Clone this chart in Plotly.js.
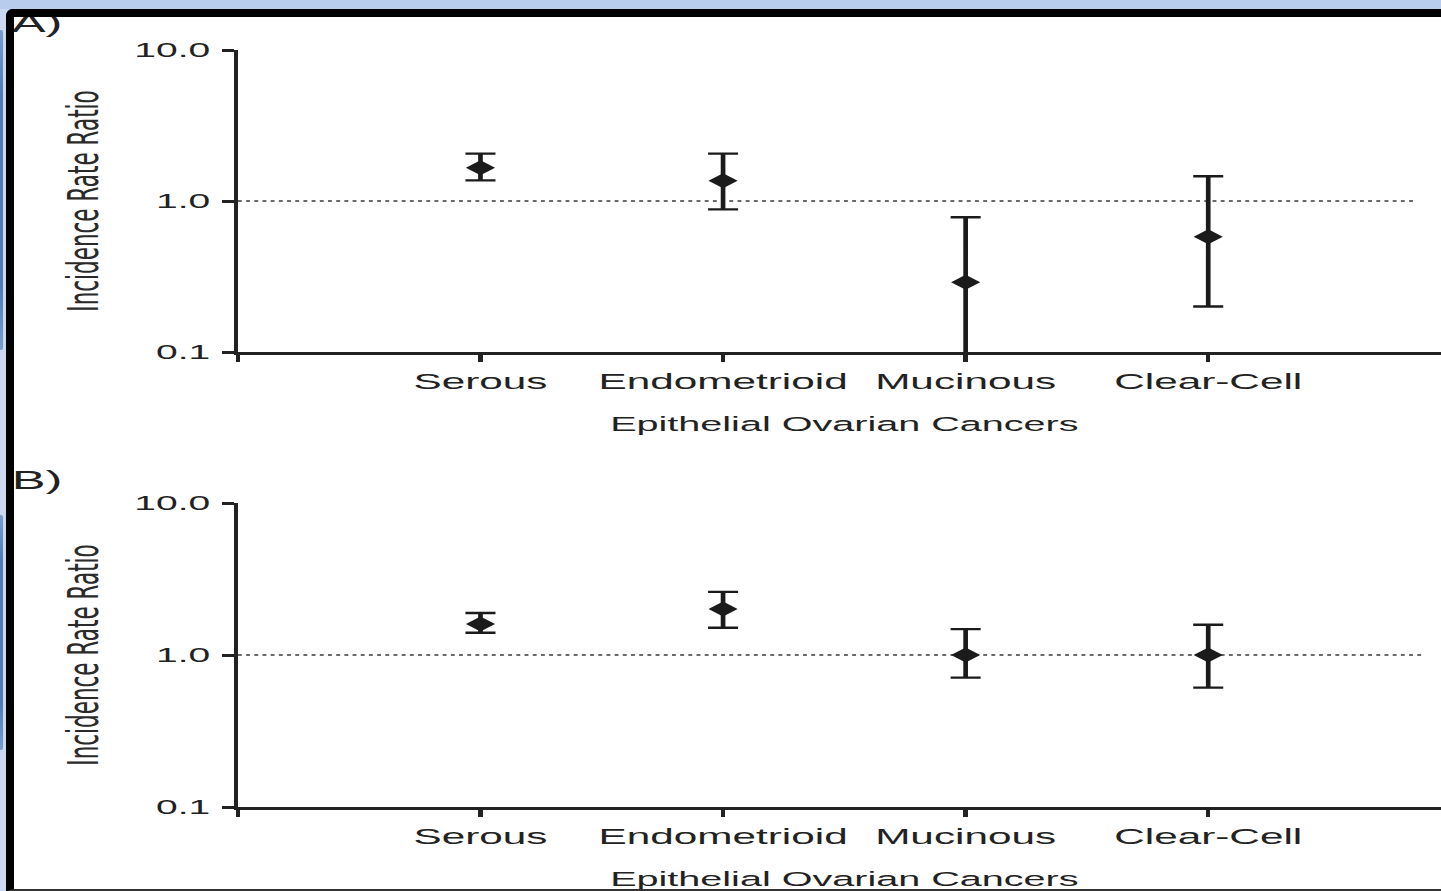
<!DOCTYPE html>
<html>
<head>
<meta charset="utf-8">
<script src="https://cdn.plot.ly/plotly-3.0.1.min.js"></script>
<style>
  html, body { margin: 0; padding: 0; width: 1441px; height: 891px; overflow: hidden; background: #b8cdee; }
  #leftband { position: absolute; left: 0; top: 9px; width: 7px; height: 882px; background: #cbd9f0; }
  .strip { position: absolute; left: 0; width: 3px; background: linear-gradient(to bottom, #7a9dcc, #4f7bb5 20%, #4f7bb5 80%, #7a9dcc); border-radius: 0 2px 2px 0; }
  #sheet { position: absolute; left: 14px; top: 17px; width: 1427px; height: 872px; background: #ffffff; }
  #chart { position: absolute; left: 0; top: 0; height: 891px; transform-origin: 0 0; }
  #frame { position: absolute; left: 6px; top: 9px; width: 1450px; height: 882px; box-sizing: border-box;
           border-top: 8px solid #000; border-left: 8px solid #000; border-bottom: 2.5px solid #333;
           border-top-left-radius: 7px; pointer-events: none; z-index: 5; }
</style>
</head>
<body>
<div id="leftband"></div>
<div class="strip" style="top:30px;height:320px"></div>
<div class="strip" style="top:515px;height:235px"></div>
<div id="sheet"></div>
<div id="chart"></div>
<div id="frame"></div>
<script>
// Incidence rate ratios (with 95% CI) by histologic subtype
const categories = ['Serous', 'Endometrioid', 'Mucinous', 'Clear-Cell'];

// Panel A
const irrA  = [1.66, 1.36, 0.29, 0.58];
const lowA  = [1.37, 0.88, 0.08, 0.20];
const highA = [2.06, 2.06, 0.78, 1.46];

// Panel B
const irrB  = [1.60, 2.01, 1.00, 1.00];
const lowB  = [1.40, 1.51, 0.71, 0.61];
const highB = [1.89, 2.60, 1.48, 1.58];

const yTickVals = [0.1, 1, 10];
const yTickText = ['0.1', '1.0', '10.0'];
const refLevel = 1;
const xTitle = 'Epithelial Ovarian Cancers';
const yTitle = 'Incidence Rate Ratio';
const panelLabels = ['A)', 'B)'];

// ---- geometry: the figure is drawn narrow and widened horizontally ----
const K = 1.95;            // horizontal stretch
const W = 760;             // un-stretched div width
const H = 891;
const ML = 238.3 / K;
const MR = W - 1451.3 / K;
const MT = 50;
const MB = H - 807;
const plotW = W - ML - MR;
const plotH = H - MT - MB;
const refEndA = 3.86, refEndB = 3.88;

document.getElementById('chart').style.width = W + 'px';
document.getElementById('chart').style.transform = 'scaleX(' + K + ')';

const paperX = px => (px / K - ML) / plotW;
const paperY = py => (H - MB - py) / plotH;

const ink = '#1b1b1b';
const axisInk = '#222222';
const sans = 'Liberation Sans, Arial, Helvetica, sans-serif';
const xIdx = categories.map((_, i) => i);

function refLine(xa, ya, xEnd) {
  return {
    type: 'scatter', mode: 'lines', xaxis: xa, yaxis: ya,
    x: [-1, xEnd], y: [refLevel, refLevel],
    line: { color: '#3a3a3a', width: 1.6, dash: '2px,2.2px' },
    hoverinfo: 'skip'
  };
}

function irrTrace(xa, ya, vals, lo, hi) {
  return {
    type: 'scatter', mode: 'markers', xaxis: xa, yaxis: ya,
    x: xIdx, y: vals,
    marker: { symbol: 'diamond', size: 11.5, color: ink },
    error_y: {
      type: 'data', symmetric: false,
      array: hi.map((h, i) => h - vals[i]),
      arrayminus: vals.map((v, i) => v - lo[i]),
      color: ink, thickness: 2.4, width: 7.7
    }
  };
}

function xAxis(anchor) {
  return {
    anchor: anchor, domain: [0, 1], range: [-1, 4],
    tickmode: 'array', tickvals: [-1].concat(xIdx), ticktext: [''].concat(categories),
    ticks: 'outside', ticklen: 7, tickwidth: 2.2, tickcolor: axisInk,
    showline: true, linewidth: 3, linecolor: axisInk,
    showgrid: false, zeroline: false, automargin: false,
    tickfont: { family: sans, size: 21.7, color: axisInk },
    ticklabelstandoff: 1,
    title: { text: xTitle, font: { family: sans, size: 20.3, color: axisInk }, standoff: 24 }
  };
}

function yAxis(anchor, domain) {
  return {
    anchor: anchor, domain: domain, type: 'log', range: [-1, 1],
    tickmode: 'array', tickvals: yTickVals, ticktext: yTickText,
    ticks: 'outside', ticklen: 6, tickwidth: 3, tickcolor: axisInk,
    showline: true, linewidth: 2.2, linecolor: axisInk,
    showgrid: false, zeroline: false, automargin: false,
    tickfont: { family: sans, size: 20, color: axisInk },
    ticklabelstandoff: 2,
    title: { text: yTitle, font: { family: 'DejaVu Sans, sans-serif', size: 21.5, color: '#2a2a2a' }, standoff: 12 }
  };
}

const data = [
  refLine('x', 'y', refEndA),
  irrTrace('x', 'y', irrA, lowA, highA),
  refLine('x2', 'y2', refEndB),
  irrTrace('x2', 'y2', irrB, lowB, highB)
];

const layout = {
  width: W, height: H,
  margin: { l: ML, r: MR, t: MT, b: MB, pad: 0 },
  paper_bgcolor: 'rgba(0,0,0,0)', plot_bgcolor: 'rgba(0,0,0,0)',
  showlegend: false,
  xaxis: xAxis('y'),
  yaxis: yAxis('x', [(807 - 352) / plotH, 1]),
  xaxis2: xAxis('y2'),
  yaxis2: yAxis('x2', [0, (807 - 503) / plotH]),
  annotations: [
    { text: panelLabels[0], xref: 'paper', yref: 'paper', x: paperX(9), y: paperY(23),
      xanchor: 'left', yanchor: 'middle', showarrow: false, font: { family: sans, size: 26, color: axisInk } },
    { text: panelLabels[1], xref: 'paper', yref: 'paper', x: paperX(9), y: paperY(479.5),
      xanchor: 'left', yanchor: 'middle', showarrow: false, font: { family: sans, size: 26, color: axisInk } }
  ]
};

Plotly.newPlot('chart', data, layout, { staticPlot: true, displayModeBar: false });
</script>
</body>
</html>
